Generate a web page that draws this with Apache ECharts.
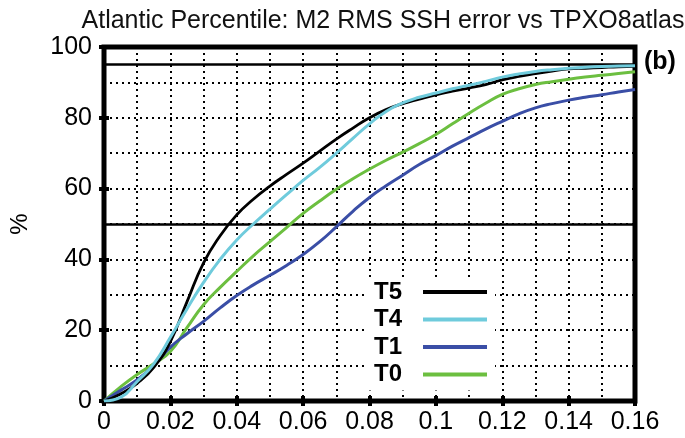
<!DOCTYPE html>
<html>
<head>
<meta charset="utf-8">
<script src="https://cdn.jsdelivr.net/npm/echarts@6/dist/echarts.min.js"></script>
<style>html,body{margin:0;padding:0;background:#fff}#c{width:685px;height:438px}</style>
</head>
<body>
<div id="c"></div>
<script>
const titleText = 'Atlantic Percentile: M2 RMS SSH error vs TPXO8atlas';
const xValues = [0,0.005,0.01,0.015,0.02,0.025,0.03,0.035,0.04,0.045,0.05,0.055,0.06,0.065,0.07,0.075,0.08,0.085,0.09,0.095,0.1,0.105,0.11,0.115,0.12,0.125,0.13,0.135,0.14,0.145,0.15,0.155,0.16];
const seriesNames = ['T5','T4','T1','T0'];
const T5 = [0,2,5,9.5,16.8,28,39,46.7,52.6,57,60.7,64,67.2,70.6,74,77.1,80,82.3,84,85.3,86.5,87.5,88.4,89.4,90.7,91.7,92.5,93.2,93.8,94,94.2,94.4,94.5];
const T4 = [0,1,5.5,10.5,18,26,33.5,40,45.5,50,54.2,58.3,62.3,66,70,74.2,78.3,81.8,84.2,85.8,87,88.2,89.2,90.3,91.5,92.4,93.1,93.6,94,94.3,94.5,94.6,94.7];
const T1 = [0,3,6,10,15.2,19,22.5,26.3,29.8,32.8,35.5,38.3,41.4,45,49.2,53.6,57.5,60.8,63.8,66.8,69.3,72,74.4,76.8,79,81.1,82.8,84,85,85.8,86.5,87.3,88];
const T0 = [0,4,7.5,10.5,14,20.7,27.2,32.1,36.6,41,45,49,53,56.5,59.8,62.8,65.5,68,70.3,72.7,75.3,78.3,81.3,84.1,86.6,88.2,89.4,90.2,90.9,91.5,92,92.5,93];
const refLines = [95, 50];
const xTicks = {min: 0, max: 0.16, interval: 0.02};
const yTicks = {min: 0, max: 100, interval: 20};
const panelTag = '(b)';

const colors = {T5:'#000000', T4:'#6fcbdc', T1:'#3a4ea6', T0:'#6cbf40'};
const widths = {T5:2.8, T4:3, T1:3, T0:3};
const valuesByName = {T5, T4, T1, T0};
const font = 'Liberation Sans, Arial, sans-serif';
const dotted = {color:'#000', width:2, type:[2,4]};

function pairs(vals){ return xValues.map((x,i)=>[x, vals[i]]); }

const drawOrder = ['T0','T1','T5','T4'];
const series = drawOrder.map(n => ({
  name: n, type: 'line', data: pairs(valuesByName[n]), smooth: 0.5,
  symbol: 'none', lineStyle: {color: colors[n], width: widths[n]},
  itemStyle: {color: colors[n]}, z: 3
}));
series[0].markLine = {
  silent: true, symbol: 'none', label: {show: false},
  lineStyle: {color: '#000', width: 2.5, type: 'solid'},
  data: refLines.map(v => ({yAxis: v})), z: 2
};

const chart = echarts.init(document.getElementById('c'), null, {renderer: 'canvas'});
chart.setOption({
  animation: false,
  backgroundColor: '#fff',
  title: {text: titleText, left: 378, textAlign: 'center', top: 4,
    textStyle: {fontFamily: font, fontSize: 25, fontWeight: 'normal', color: '#111'}},
  grid: {left: 100, top: 47, width: 535, height: 354, show: true, borderColor: '#000', borderWidth: 5, backgroundColor: 'transparent'},
  legend: {
    data: seriesNames, orient: 'vertical', left: 366, top: 278, align: 'right',
    backgroundColor: '#fff', padding: [2, 8, 4, 8], itemGap: 3.5, itemWidth: 64, itemHeight: 20,
    textStyle: {fontFamily: font, fontSize: 24, fontWeight: 'bold', color: '#000', padding: [0, 16, 0, 0], lineHeight: 20},
    icon: 'path://M0,0 L64,0 L64,4 L0,4 Z'
  },
  xAxis: [{
    type: 'value', min: xTicks.min, max: xTicks.max, interval: xTicks.interval,
    axisLine: {show: false}, axisTick: {show: true, inside: true, length: 5, lineStyle: {color: '#000', width: 4}},
    axisLabel: {fontFamily: font, fontSize: 25, color: '#000', margin: 9, formatter: v => String(+v.toFixed(2))},
    splitLine: {show: true, lineStyle: dotted},
    minorTick: {show: false, splitNumber: 2},
    minorSplitLine: {show: true, lineStyle: dotted}
  }, {
    type: 'value', position: 'top', min: xTicks.min, max: xTicks.max, interval: xTicks.interval,
    axisLine: {show: false}, axisLabel: {show: false}, splitLine: {show: false},
    axisTick: {show: true, inside: true, length: 5, lineStyle: {color: '#000', width: 4}}
  }],
  yAxis: [{
    type: 'value', min: yTicks.min, max: yTicks.max, interval: yTicks.interval,
    name: '%', nameLocation: 'middle', nameGap: 72, nameRotate: 90,
    nameTextStyle: {fontFamily: font, fontSize: 24, color: '#000'},
    axisLine: {show: false}, axisTick: {show: true, inside: true, length: 5, lineStyle: {color: '#000', width: 4}},
    axisLabel: {fontFamily: font, fontSize: 25, color: '#000', margin: 12},
    splitLine: {show: true, lineStyle: dotted},
    minorTick: {show: false, splitNumber: 2},
    minorSplitLine: {show: true, lineStyle: dotted}
  }, {
    type: 'value', position: 'right', min: yTicks.min, max: yTicks.max, interval: yTicks.interval,
    axisLine: {show: false}, axisLabel: {show: false}, splitLine: {show: false},
    axisTick: {show: true, inside: true, length: 5, lineStyle: {color: '#000', width: 4}}
  }],
  graphic: [{type: 'text', left: 644, top: 50, style: {text: panelTag, fontFamily: font, fontSize: 25, fontWeight: 'bold', fill: '#000'}}],
  series: series
});
</script>
</body>
</html>
